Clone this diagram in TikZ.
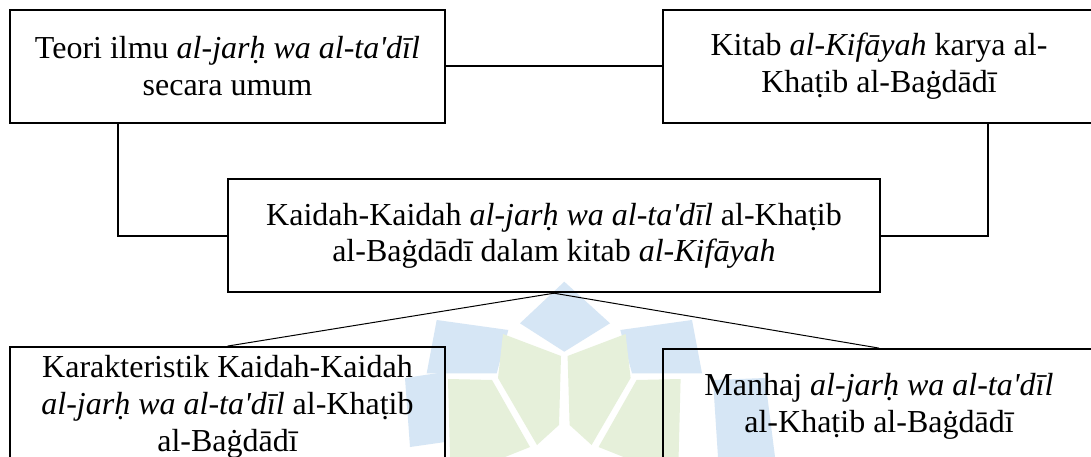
\documentclass[tikz,border=0pt]{standalone}
\usepackage{fontspec}
\setmainfont{Liberation Serif}[Ligatures=TeXOff]
\definecolor{wmblue}{RGB}{214,230,245}
\definecolor{wmgreen}{RGB}{230,240,218}
\begin{document}
\begin{tikzpicture}[x=1pt,y=-1pt,
  box/.style={draw=black, line width=1.8pt, align=center, inner sep=0pt,
              font=\fontsize{32}{36.8}\selectfont},
  link/.style={draw=black, line width=1.8pt},
  fan/.style={draw=black, line width=1pt},
  wmb/.style={fill=wmblue},
  wmg/.style={fill=wmgreen}]
\useasboundingbox (0,0) rectangle (1091,457);
\clip (0,0) rectangle (1091,457);
\fill[white] (0,0) rectangle (1091,457);
% faint watermark (background logo)
\fill[wmb] (564.3,281.7) -- (610,323.3) -- (564.3,351.7) -- (520,323.3) -- cycle;
\fill[wmb] (436.7,320) -- (508.3,330) -- (496.7,373.3) -- (426.7,373.3) -- cycle;
\fill[wmb] (692,320) -- (620.3,330) -- (632,373.3) -- (702,373.3) -- cycle;
\fill[wmb] (405,378) -- (445,372) -- (445,442) -- (410,447) -- cycle;
\fill[wmb] (713,380) -- (765,378) -- (775,457) -- (718,457) -- cycle;
\fill[wmg] (503,334) -- (561,356) -- (559,425) -- (537,445) -- (498,378) -- cycle;
\fill[wmg] (625.6,334) -- (567.6,356) -- (569.6,425) -- (591.6,445) -- (630.6,378) -- cycle;
\fill[wmg] (448,379) -- (492,380) -- (530,447) -- (505,457) -- (450,457) -- cycle;
\fill[wmg] (680.6,379) -- (636.6,380) -- (598.6,447) -- (623.6,457) -- (678.6,457) -- cycle;
% boxes
\node[box, minimum width=435pt, minimum height=112.7pt] (A) at (227.5,66.3)
  {Teori ilmu \textit{al-jarḥ wa al-ta'dīl}\\secara umum};
\node[box, minimum width=432pt, minimum height=112.7pt] (B) at (879,66.3)
  {Kitab \textit{al-Kifāyah} karya al-\\Khaṭib al-Baġdādī};
\node[box, minimum width=652pt, minimum height=113pt] (C) at (554,235.8)
  {Kaidah-Kaidah \textit{al-jarḥ wa al-ta'dīl} al-Khaṭib\\al-Baġdādī dalam kitab \textit{al-Kifāyah}};
\node[box, minimum width=435pt, minimum height=120pt] (D) at (227.5,407)
  {Karakteristik Kaidah-Kaidah\\\textit{al-jarḥ wa al-ta'dīl} al-Khaṭib\\al-Baġdādī};
\node[box, minimum width=432pt, minimum height=115pt] (E) at (879,406.5)
  {Manhaj \textit{al-jarḥ wa al-ta'dīl}\\al-Khaṭib al-Baġdādī};
% connectors
\draw[link] (A.east) -- (B.west);
\draw[link] ([xshift=109pt]A.south west) |- (C.west);
\draw[link] ([xshift=326pt]B.south west) |- (C.east);
\draw[fan] (C.south) -- (D.north);
\draw[fan] (C.south) -- (E.north);
\end{tikzpicture}
\end{document}
